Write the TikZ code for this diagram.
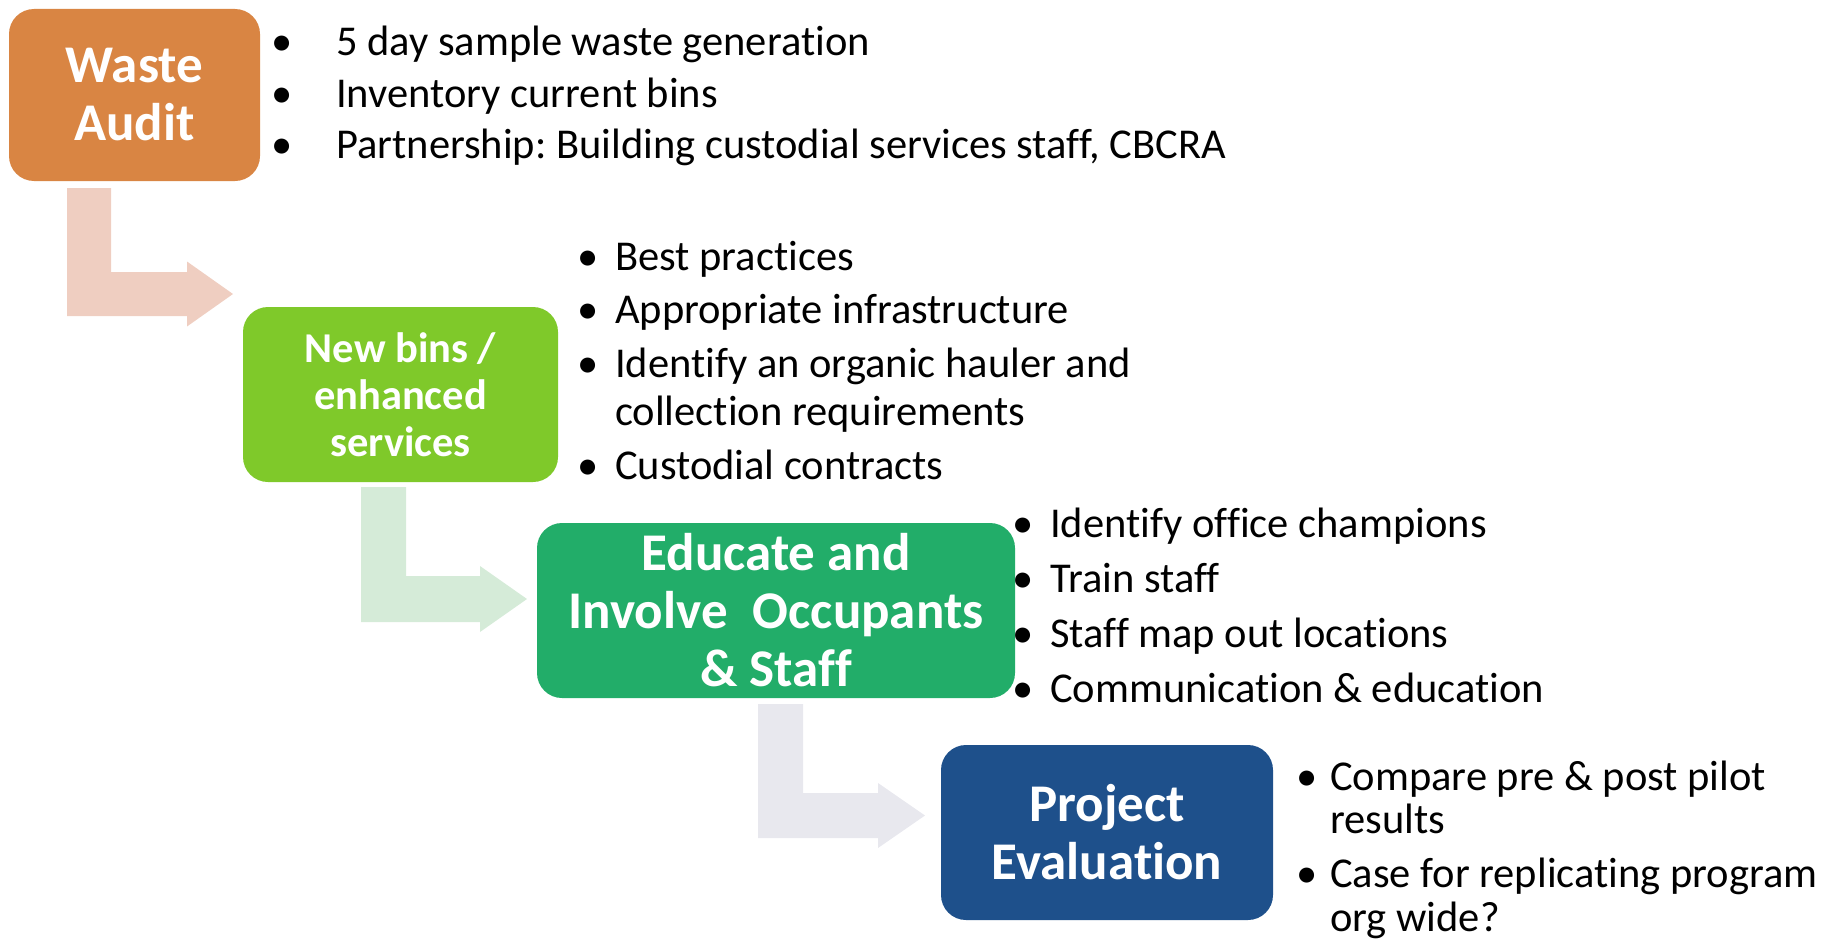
\documentclass[tikz,border=0pt]{standalone}
\usepackage{fontspec}
\setmainfont{Carlito}[Ligatures=NoCommon]
\definecolor{cOrange}{HTML}{D98543}
\definecolor{cOrangeL}{HTML}{EFCEC1}
\definecolor{cLime}{HTML}{7FC92A}
\definecolor{cLimeL}{HTML}{D5EBD8}
\definecolor{cGreen}{HTML}{22AD69}
\definecolor{cGrayL}{HTML}{E8E8EE}
\definecolor{cBlue}{HTML}{1E508B}
\frenchspacing
\begin{document}
\begin{tikzpicture}[x=1pt,y=-1pt,
  stage/.style={rounded corners=25pt, inner sep=0pt, text=white, align=center,
    font=\fontsize{53}{58}\selectfont\bfseries},
  item/.style={anchor=base west, inner sep=0pt, font=\fontsize{42.5}{49}\selectfont},
  dot/.style={anchor=base, inner sep=0pt, font=\fontsize{42.5}{49}\selectfont}]
\useasboundingbox (0,0) rectangle (1835,942);

% stage boxes
\node[stage, fill=cOrange, minimum width=251pt, minimum height=172pt] (wa) at (134.5,95) {Waste\\Audit};
\node[stage, fill=cLime, minimum width=315pt, minimum height=175pt,
  font=\fontsize{42.5}{47}\selectfont\bfseries] (nb) at (400.5,394.5) {New bins /\\enhanced\\services};
\node[stage, fill=cGreen, minimum width=478pt, minimum height=175pt] (ed) at (776,610.5) {Educate and\\Involve\hspace{0.25em} Occupants\\\& Staff};
\node[stage, fill=cBlue, minimum width=332pt, minimum height=175pt] (pe) at (1107,832.5) {Project\\Evaluation};

% elbow arrows
\fill[cOrangeL] (67,188) -- (111,188) -- (111,272) -- (187,272) -- (187,261.5) -- (233,294) -- (187,326.5) -- (187,316) -- (67,316) -- cycle;
\fill[cLimeL] (361,487) -- (406,487) -- (406,576) -- (480,576) -- (480,566) -- (527,599) -- (480,632) -- (480,622) -- (361,622) -- cycle;
\fill[cGrayL] (758,704) -- (803,704) -- (803,793) -- (878,793) -- (878,783) -- (925,815.5) -- (878,848) -- (878,838) -- (758,838) -- cycle;

% bullets: Waste Audit
\node[dot] (d11) at (282,56) {•};
\node[item] (t11) at (336,56) {5 day sample waste generation};
\node[dot] (d12) at (282,107) {•};
\node[item] (t12) at (336,107) {Inventory current bins};
\node[dot] (d13) at (282,158) {•};
\node[item] (t13) at (336,158) {Partnership: Building custodial services staff, CBCRA};

% bullets: New bins
\node[dot] (d21) at (588,270) {•};
\node[item] (t21) at (615,270) {Best practices};
\node[dot] (d22) at (588,323) {•};
\node[item] (t22) at (615,323) {Appropriate infrastructure};
\node[dot] (d23) at (588,377) {•};
\node[item] (t23) at (615,377) {Identify an organic hauler and};
\node[item] (t23b) at (615,425) {collection requirements};
\node[dot] (d24) at (588,479) {•};
\node[item] (t24) at (615,479) {Custodial contracts};

% bullets: Educate
\node[dot] (d31) at (1023,537) {•};
\node[item] (t31) at (1050,537) {Identify office champions};
\node[dot] (d32) at (1023,592) {•};
\node[item] (t32) at (1050,592) {Train staff};
\node[dot] (d33) at (1023,647) {•};
\node[item] (t33) at (1050,647) {Staff map out locations};
\node[dot] (d34) at (1023,702) {•};
\node[item] (t34) at (1050,702) {Communication \& education};

% bullets: Project Evaluation
\node[dot] (d41) at (1307,790) {•};
\node[item] (t41) at (1330,790) {Compare pre \& post pilot};
\node[item] (t41b) at (1330,833) {results};
\node[dot] (d42) at (1307,887) {•};
\node[item] (t42) at (1330,887) {Case for replicating program};
\node[item] (t42b) at (1330,931) {org wide?};
\end{tikzpicture}
\end{document}
